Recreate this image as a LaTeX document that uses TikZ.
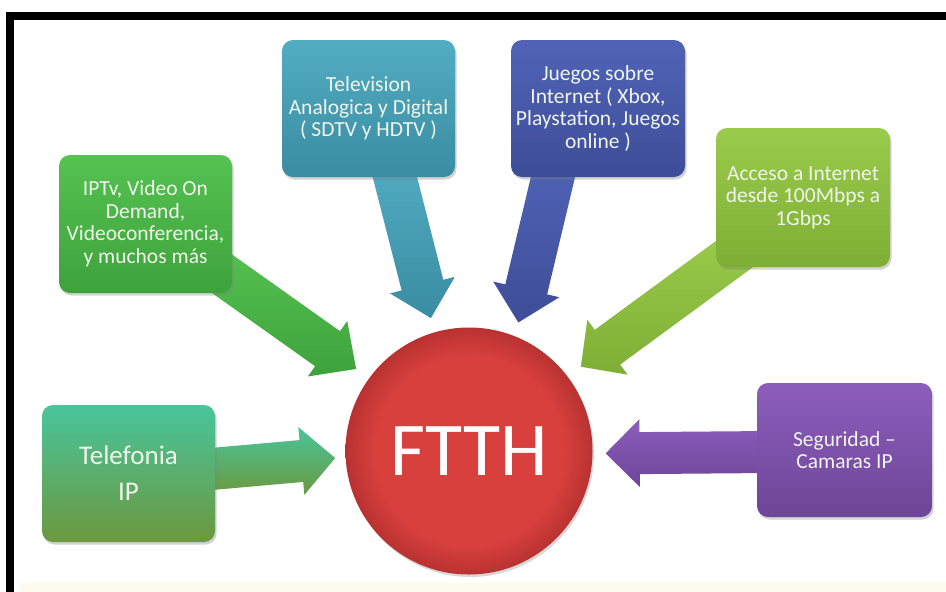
\documentclass[tikz,border=0pt]{standalone}
\usepackage{fontspec}
\setmainfont{Carlito}
\usetikzlibrary{calc,shadows,shapes.geometric}
\pgfdeclarelayer{back}
\pgfdeclarelayer{bg}
\pgfsetlayers{back,bg,main}

\definecolor{txtc}{HTML}{F0F5EC}
\definecolor{iptvA}{HTML}{55C251}\definecolor{iptvB}{HTML}{3EA23C}
\definecolor{tvA}{HTML}{52ADC2}\definecolor{tvB}{HTML}{3A8CA2}
\definecolor{jgA}{HTML}{5063B6}\definecolor{jgB}{HTML}{3E4D98}
\definecolor{acA}{HTML}{9ACB4B}\definecolor{acB}{HTML}{7EAE35}
\definecolor{tlA}{HTML}{48C59C}\definecolor{tlB}{HTML}{6C983E}
\definecolor{sgA}{HTML}{8C5EBB}\definecolor{sgB}{HTML}{6E4598}
\definecolor{ftA}{HTML}{D8403E}\definecolor{ftB}{HTML}{B93230}
\definecolor{stripc}{HTML}{FDFAEE}

\pgfdeclareradialshading{ftshade}{\pgfpoint{0bp}{0bp}}{%
  color(0bp)=(ftA); color(19bp)=(ftA); color(25bp)=(ftB); color(50bp)=(ftB)}

\newcommand\blockarrow[7]{%
  \path let \p1=(#1), \p2=(#2), \n1={atan2(\y2-\y1,\x2-\x1)}, \n2={veclen(\x2-\x1,\y2-\y1)} in
    \pgfextra{\xdef\bAang{\n1}\xdef\bAlen{\n2}};
  \begin{scope}[shift={(#1)}, rotate=\bAang, x=1pt, y=1pt]
    \shade[top color=#6, bottom color=#7]
      (0,{#3/2}) -- ({\bAlen-#5},{#3/2}) -- ({\bAlen-#5},{#4/2}) -- (\bAlen,0)
      -- ({\bAlen-#5},{-#4/2}) -- ({\bAlen-#5},{-#3/2}) -- (0,{-#3/2}) -- cycle;
  \end{scope}}

\tikzset{
  box/.style={rounded corners=11pt, minimum width=173pt, minimum height=138pt,
    align=center, text=txtc, inner sep=0pt, font=\fontsize{21.5}{22.5}\selectfont,
    drop shadow={shadow xshift=1.5pt, shadow yshift=-2.5pt, opacity=0.35}},
}

\begin{document}
\begin{tikzpicture}[x=1pt, y=-1pt]
\useasboundingbox (0,0) rectangle (946,592);
\begin{pgfonlayer}{back}
\fill[white] (0,0) rectangle (946,592);
\fill[black] (6,12) rectangle (946,20);
\fill[black] (6,12) rectangle (14,592);
\fill[stripc] (20,583) rectangle (946,592);
\end{pgfonlayer}

% boxes
\node[box, top color=iptvA, bottom color=iptvB] (iptv) at (145.5,224)
  {IPTv, Video On\\Demand,\\Videoconferencia,\\y muchos más};
\node[box, top color=tvA, bottom color=tvB, minimum height=137pt] (tv) at (368.5,108.5)
  {Television\\Analogica y Digital\\( SDTV y HDTV )};
\node[box, top color=jgA, bottom color=jgB, minimum width=174pt, minimum height=137pt] (jg) at (598,108.5)
  {Juegos sobre\\Internet ( Xbox,\\Playstation, Juegos\\online )};
\node[box, top color=acA, bottom color=acB, minimum width=174pt, minimum height=139pt] (ac) at (803,197.5)
  {Acceso a Internet\\desde 100Mbps a\\1Gbps};
\node[box, top color=tlA, bottom color=tlB, minimum height=137pt, font=\fontsize{27}{36}\selectfont] (tl) at (128.5,473.5)
  {Telefonia\\IP};
\node[box, top color=sgA, bottom color=sgB, minimum width=175pt, minimum height=134pt] (sg) at (844.5,450)
  {Seguridad –\\Camaras IP};

% center
\node[circle, minimum size=247pt, inner sep=0pt, shading=ftshade,
  text=white, font=\fontsize{76}{80}\selectfont,
  drop shadow={shadow xshift=1.5pt, shadow yshift=-2.5pt, opacity=0.3}] (ftth) at (469,451) {FTTH};

% arrows
\begin{pgfonlayer}{bg}
\blockarrow{$(iptv.center)+(60,38)$}{$(ftth.center)!1.128!(ftth.144.6)$}{43}{68}{35}{iptvA}{iptvB}
\blockarrow{$(tv.center)+(22,51.5)$}{$(ftth.center)!1.118!(ftth.106.3)$}{43}{67}{34}{tvA}{tvB}
\blockarrow{$(jg.center)+(-41,51.5)$}{$(ftth.center)!1.113!(ftth.69.2)$}{43}{68}{34}{jgA}{jgB}
\blockarrow{$(ac.center)+(-63,52.5)$}{$(ftth.center)!1.132!(ftth.37.8)$}{43}{68}{33}{acA}{acB}
\blockarrow{$(tl.center)+(71.5,-3.5)$}{$(ftth.center)!1.083!(ftth.183.8)$}{42}{68}{34}{tlA}{tlB}
\blockarrow{$(sg.center)+(-74.5,2)$}{$(ftth.center)!1.105!(ftth.-1.3)$}{42}{68}{34}{sgA}{sgB}
\end{pgfonlayer}
\end{tikzpicture}
\end{document}
